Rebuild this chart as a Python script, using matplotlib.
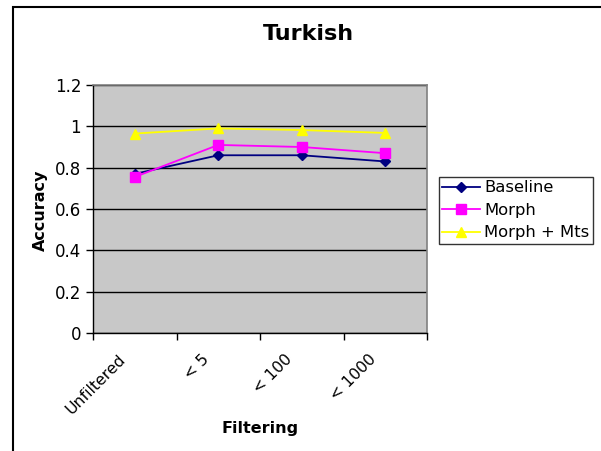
import matplotlib
matplotlib.use('Agg')
import matplotlib.pyplot as plt
from matplotlib.patches import Rectangle
from matplotlib.transforms import ScaledTranslation

categories = ['Unfiltered', '< 5', '< 100', '< 1000']
baseline = [0.77, 0.86, 0.86, 0.83]
morph = [0.755, 0.91, 0.90, 0.87]
morph_mts = [0.965, 0.99, 0.982, 0.968]

plt.rcParams['font.family'] = ['Verdana', 'DejaVu Sans']

fig = plt.figure(figsize=(6.01, 4.51), dpi=100)
fig.patches.append(Rectangle((13 / 601, -0.1), 1.2, (451 - 7) / 451 + 0.1,
                             transform=fig.transFigure, fill=False,
                             edgecolor='black', linewidth=1.5))

ax = fig.add_axes([93 / 601, (451 - 333) / 451, 334 / 601, 248 / 451])
ax.set_facecolor('#c8c8c8')

xs = list(range(len(categories)))
ax.plot(xs, baseline, color='#000080', marker='D', markersize=5.5,
        linewidth=1.3, label='Baseline')
ax.plot(xs, morph, color='#ff00ff', marker='s', markersize=6.5,
        linewidth=1.3, label='Morph')
ax.plot(xs, morph_mts, color='#ffff00', marker='^', markersize=7.5,
        linewidth=1.3, label='Morph + Mts')

ax.set_xlim(-0.5, len(categories) - 0.5)
ax.set_ylim(0, 1.2)
ax.set_yticks([0, 0.2, 0.4, 0.6, 0.8, 1.0, 1.2])
ax.set_yticklabels(['0', '0.2', '0.4', '0.6', '0.8', '1', '1.2'])
ax.yaxis.grid(True, color='black', linewidth=1)
ax.set_axisbelow(True)

ax.set_xticks([i - 0.5 for i in range(len(categories) + 1)])
ax.set_xticklabels([])
ax.set_xticks(xs, minor=True)
ax.set_xticklabels(categories, minor=True, rotation=45, ha='right',
                   va='top', rotation_mode='anchor', fontsize=11.3)
ax.tick_params(axis='x', which='minor', length=0, pad=13.7)
ax.tick_params(axis='x', which='major', length=5, width=1, direction='out')
ax.tick_params(axis='y', length=5, width=1, direction='out', labelsize=12)
for lbl in ax.get_xticklabels(minor=True):
    lbl.set_transform(lbl.get_transform() +
                      ScaledTranslation(-0.17, 0, fig.dpi_scale_trans))

for side in ['top', 'right']:
    ax.spines[side].set_color('#808080')
    ax.spines[side].set_linewidth(1.2)
for side in ['left', 'bottom']:
    ax.spines[side].set_color('black')
    ax.spines[side].set_linewidth(1)

fig.text(308 / 601, 1 - 34 / 451, 'Turkish', ha='center', va='center',
         fontsize=16, fontweight='bold')
fig.text(40 / 601, 1 - 210 / 451, 'Accuracy', ha='center', va='center',
         rotation=90, fontsize=11.5, fontweight='bold')
fig.text(260 / 601, 1 - 428 / 451, 'Filtering', ha='center', va='center',
         fontsize=11.5, fontweight='bold')

leg = fig.legend(loc='upper left', bbox_to_anchor=(439 / 601, 1 - 177 / 451),
                 fontsize=11.8, frameon=True, fancybox=False, borderpad=0.2,
                 handlelength=2.3, handletextpad=0.25, labelspacing=0.46,
                 borderaxespad=0)
leg.get_frame().set_edgecolor('black')
leg.get_frame().set_linewidth(1)

fig.savefig('out.png', dpi=100)
